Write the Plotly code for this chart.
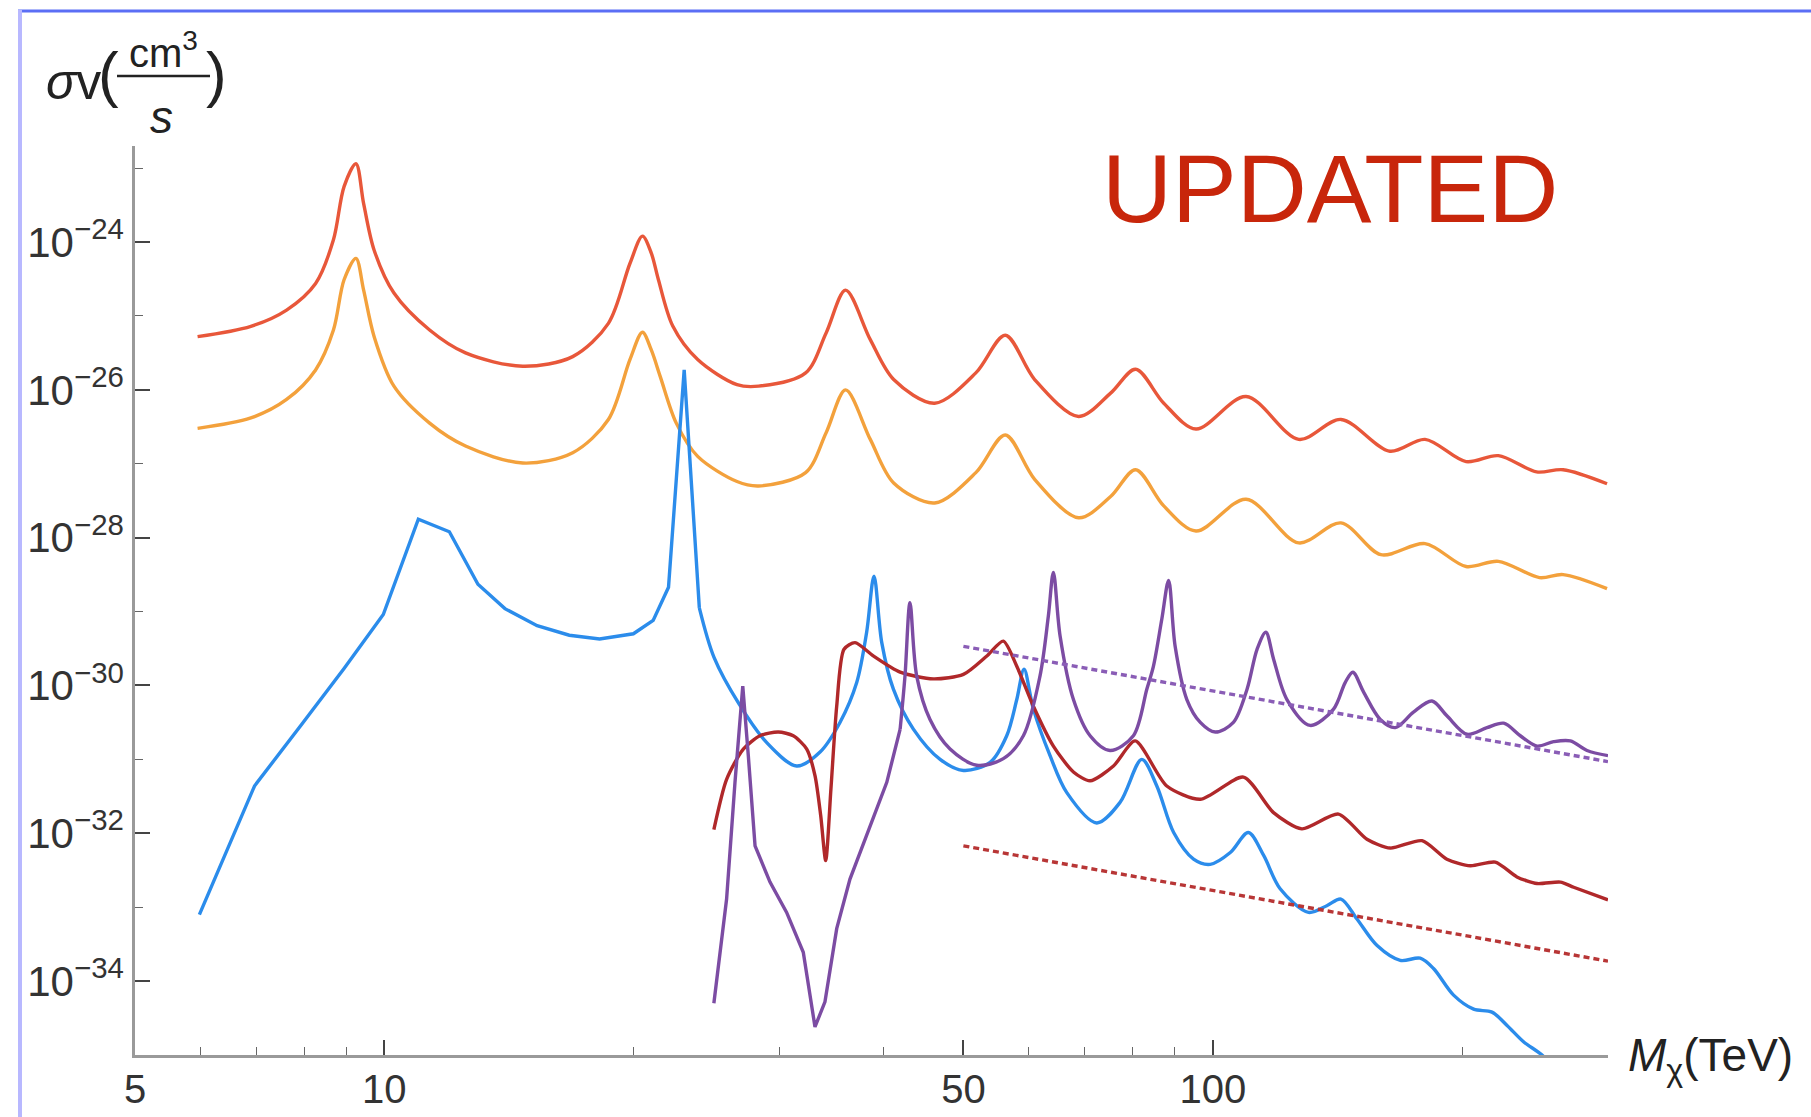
import math
import plotly.graph_objects as go

# ---------------- data: dark-matter mass M (TeV) and log10(sigma v / cm^3 s^-1) ----------------
mass_orange_red = [5.95, 6.90, 7.62, 8.26, 8.68, 8.94, 9.24, 9.44, 9.72, 10.27, 11.34, 12.53, 14.69,
                   16.88, 18.64, 19.79, 20.49, 21.0, 21.42, 22.30, 23.89, 26.65, 28.30, 32.25, 34.14,
                   36.04, 38.60, 41.19, 46.17, 51.76, 56.17, 60.95, 68.87, 75.34, 80.70, 87.27, 95.45,
                   109.7, 127.0, 142.8, 163.6, 180.4, 202.2, 221.2, 246.0, 264.8, 299.2]
logsv_orange_red = [-25.28, -25.14, -24.92, -24.56, -23.97, -23.25, -22.94, -23.48, -24.11, -24.69,
                    -25.19, -25.50, -25.68, -25.55, -25.10, -24.29, -23.92, -24.15, -24.51, -25.14,
                    -25.59, -25.93, -25.95, -25.77, -25.23, -24.65, -25.32, -25.86, -26.18, -25.77,
                    -25.26, -25.86, -26.36, -26.04, -25.72, -26.18, -26.53, -26.09, -26.67, -26.40,
                    -26.83, -26.67, -26.97, -26.89, -27.11, -27.08, -27.27]

mass_orange = [5.95, 6.90, 7.62, 8.26, 8.68, 8.94, 9.24, 9.44, 9.72, 10.27, 11.34, 12.53, 14.69,
               16.88, 18.64, 19.79, 20.49, 21.0, 21.53, 22.51, 23.89, 26.65, 28.30, 32.25, 34.14,
               36.04, 38.60, 41.19, 46.17, 51.76, 56.17, 60.95, 68.87, 75.34, 80.70, 87.27, 95.45,
               109.7, 127.0, 142.8, 159.6, 180.4, 202.2, 221.2, 248.0, 264.8, 299.2]
logsv_orange = [-26.52, -26.38, -26.13, -25.73, -25.19, -24.51, -24.22, -24.65, -25.28, -25.95,
                -26.45, -26.76, -26.99, -26.85, -26.40, -25.59, -25.22, -25.46, -25.82, -26.45,
                -26.90, -27.24, -27.30, -27.12, -26.58, -26.00, -26.67, -27.26, -27.53, -27.12,
                -26.61, -27.21, -27.73, -27.44, -27.08, -27.57, -27.91, -27.48, -28.07, -27.80,
                -28.23, -28.08, -28.39, -28.32, -28.54, -28.50, -28.69]

mass_blue = [5.98, 6.97, 7.94, 8.94, 9.97, 10.99, 11.98, 12.97, 13.98, 15.29, 16.72, 18.19, 19.98,
             21.11, 22.03, 23.01, 24.0, 25.0, 26.8, 28.93, 31.46, 33.57, 35.48, 37.17, 38.21, 39.0,
             39.85, 41.16, 43.51, 46.87, 50.0, 53.86, 56.40, 58.0, 59.18, 60.74, 63.62, 66.65,
             72.44, 77.3, 82.1, 85.6, 89.7, 94.8, 99.3, 105.0, 110.4, 115.2, 120.6, 130.5, 137.3,
             142.8, 149.3, 157.9, 168.4, 178.0, 184.7, 195.3, 206.5, 217.3, 226.6, 237.2, 250.8, 262.0]
logsv_blue = [-33.10, -31.36, -30.53, -29.77, -29.04, -27.75, -27.92, -28.63, -28.96, -29.19,
              -29.32, -29.37, -29.30, -29.12, -28.67, -25.73, -28.95, -29.62, -30.25, -30.77,
              -31.09, -30.90, -30.50, -29.96, -29.28, -28.52, -29.42, -30.05, -30.59, -31.00,
              -31.15, -31.04, -30.68, -30.19, -29.78, -30.32, -30.95, -31.45, -31.86, -31.58,
              -31.00, -31.36, -31.99, -32.35, -32.42, -32.26, -31.99, -32.30, -32.75, -33.07,
              -32.98, -32.89, -33.16, -33.52, -33.72, -33.69, -33.83, -34.19, -34.38, -34.42,
              -34.60, -34.82, -35.02, -35.30]

mass_darkred = [24.99, 25.89, 27.12, 28.41, 29.89, 31.16, 32.35, 33.10, 33.63, 34.10, 34.60, 35.16,
                35.88, 37.0, 38.92, 41.94, 46.0, 50.0, 53.37, 55.87, 58.0, 60.74, 64.21, 67.89,
                71.11, 75.88, 80.6, 88.0, 96.6, 108.9, 118.4, 128.1, 141.8, 153.5, 163.8, 178.9,
                191.7, 204.6, 219.3, 232.9, 246.3, 262.8, 272.7, 300.0]
logsv_darkred = [-31.95, -31.27, -30.86, -30.68, -30.63, -30.68, -30.86, -31.22, -31.76, -32.37,
                 -31.40, -30.28, -29.51, -29.42, -29.60, -29.82, -29.91, -29.85, -29.60, -29.40,
                 -29.74, -30.28, -30.82, -31.17, -31.29, -31.09, -30.75, -31.36, -31.54, -31.24,
                 -31.72, -31.94, -31.74, -32.08, -32.20, -32.10, -32.35, -32.44, -32.39, -32.59,
                 -32.68, -32.66, -32.73, -32.90]

mass_purple = [24.99, 25.89, 26.50, 27.08, 27.5, 28.02, 29.21, 30.59, 32.04, 33.10, 34.03, 35.16,
               36.48, 38.57, 40.41, 41.94, 42.51, 43.1, 43.91, 45.57, 48.18, 51.88, 55.87, 59.07,
               61.87, 63.32, 64.21, 65.42, 67.89, 71.11, 75.17, 80.2, 83.25, 84.79, 86.8, 88.45,
               90.07, 93.05, 96.6, 100.7, 105.9, 110.0, 113.1, 115.9, 118.4, 122.9, 131.1, 139.9,
               144.5, 147.6, 152.1, 159.3, 166.1, 174.7, 183.9, 191.7, 202.7, 214.3, 224.5, 235.1,
               246.3, 257.9, 270.2, 283.0, 300.0]
logsv_purple = [-34.30, -32.89, -31.31, -30.01, -30.95, -32.17, -32.66, -33.07, -33.61, -34.62,
                -34.28, -33.29, -32.62, -31.90, -31.31, -30.59, -29.87, -28.88, -29.87, -30.46,
                -30.86, -31.08, -30.99, -30.68, -29.87, -29.06, -28.47, -29.33, -30.19, -30.68,
                -30.88, -30.68, -30.05, -29.74, -29.10, -28.58, -29.47, -30.19, -30.50, -30.63,
                -30.50, -30.05, -29.51, -29.28, -29.64, -30.19, -30.54, -30.32, -29.96, -29.82,
                -30.09, -30.46, -30.57, -30.36, -30.21, -30.41, -30.66, -30.57, -30.51, -30.68,
                -30.82, -30.76, -30.75, -30.88, -30.95]

mass_bound = [50.0, 300.0]
logsv_bound_purple = [-29.47, -31.03]
logsv_bound_darkred = [-32.17, -33.73]

x_tick_vals = [5, 10, 50, 100]
x_tick_text = ["5", "10", "50", "100"]
x_minor_vals = [6, 7, 8, 9, 20, 30, 40, 60, 70, 80, 90, 200, 300]
y_tick_exps = [-24, -26, -28, -30, -32, -34]
y_minor_exps = [-23, -25, -27, -29, -31, -33]

# ---------------- layout geometry ----------------
W, H = 1811, 1117
ML, MR, MT, MB = 135, 203, 146, 62
PW, PH = W - ML - MR, H - MT - MB


def px_x(px):
    return (px - ML) / PW


def px_y(py):
    return (H - MB - py) / PH


FONT = "Liberation Sans, Arial, Helvetica, sans-serif"
LW = 3.4

fig = go.Figure()


def add_curve(mass, logsv, color, linear_until=None, width=LW, smoothing=0.9):
    sv = [10 ** v for v in logsv]
    if linear_until is not None:
        xa = [m for m in mass if m <= linear_until]
        ya = [s for m, s in zip(mass, sv) if m <= linear_until]
        fig.add_trace(go.Scatter(x=xa, y=ya, mode="lines",
                                 line=dict(color=color, width=width, shape="linear"),
                                 hoverinfo="skip"))
        xb = [m for m in mass if m >= linear_until]
        yb = [s for m, s in zip(mass, sv) if m >= linear_until]
    else:
        xb, yb = mass, sv
    fig.add_trace(go.Scatter(x=xb, y=yb, mode="lines",
                             line=dict(color=color, width=width, shape="spline", smoothing=smoothing),
                             hoverinfo="skip"))


add_curve(mass_orange_red, logsv_orange_red, "#E8573A")
add_curve(mass_orange, logsv_orange, "#F3A13C")
add_curve(mass_blue, logsv_blue, "#2B8CEB", linear_until=24.0)
add_curve(mass_darkred, logsv_darkred, "#B0282A", smoothing=0.7)
add_curve(mass_purple, logsv_purple, "#7C4CA3", linear_until=41.94)

fig.add_trace(go.Scatter(x=mass_bound, y=[10 ** v for v in logsv_bound_purple], mode="lines",
                         line=dict(color="#8A5DB6", width=3.4, dash="6px,4px"), hoverinfo="skip"))
fig.add_trace(go.Scatter(x=mass_bound, y=[10 ** v for v in logsv_bound_darkred], mode="lines",
                         line=dict(color="#B83636", width=3.4, dash="6px,4px"), hoverinfo="skip"))

fig.update_layout(
    width=W, height=H, autosize=False,
    margin=dict(l=ML, r=MR, t=MT, b=MB, pad=0, autoexpand=False),
    paper_bgcolor="white", plot_bgcolor="white",
    showlegend=False,
    font=dict(family=FONT, color="#333333"),
    xaxis=dict(
        type="log", range=[math.log10(5), math.log10(300)],
        automargin=False,
        tickmode="array", tickvals=x_tick_vals, ticktext=x_tick_text,
        ticks="inside", ticklen=15, tickwidth=1.6, tickcolor="#444444",
        tickfont=dict(size=40, color="#333333", family=FONT),
        ticklabelstandoff=-3,
        showline=True, linecolor="#9a9a9a", linewidth=2.5,
        showgrid=False, zeroline=False,
        minor=dict(tickmode="array", tickvals=x_minor_vals, ticks="inside",
                   ticklen=8, tickwidth=1.3, tickcolor="#666666", showgrid=False),
    ),
    yaxis=dict(
        type="log", range=[-35, -22.7],
        automargin=False,
        tickmode="array", tickvals=[10.0 ** e for e in y_tick_exps],
        ticktext=["10<sup>\u2212%d</sup>" % (-e) for e in y_tick_exps],
        ticks="inside", ticklen=15, tickwidth=1.6, tickcolor="#444444",
        tickfont=dict(size=42, color="#333333", family=FONT),
        showline=True, linecolor="#9a9a9a", linewidth=2.5,
        showgrid=False, zeroline=False,
        minor=dict(tickmode="array", tickvals=[10.0 ** e for e in y_minor_exps], ticks="inside",
                   ticklen=8, tickwidth=1.3, tickcolor="#666666", showgrid=False),
    ),
)

annotations = [
    # y-axis label  sigma v ( cm^3 / s )
    dict(text="<i>\u03c3</i>v", x=px_x(73), y=px_y(82), font=dict(size=50)),
    dict(text="(", x=px_x(108), y=px_y(74), font=dict(size=62)),
    dict(text="cm<sup>3</sup>", x=px_x(163), y=px_y(50), font=dict(size=40)),
    dict(text="<i>s</i>", x=px_x(161), y=px_y(117), font=dict(size=46)),
    dict(text=")", x=px_x(216), y=px_y(74), font=dict(size=62)),
    # x-axis label
    dict(text="<i>M</i><sub>\u03c7</sub>(TeV)", x=px_x(1626), y=px_y(1058), xanchor="left",
         font=dict(size=46)),
    # stamp
    dict(text="UPDATED", x=px_x(1330), y=px_y(189), font=dict(size=97, color="#C8260B")),
]
for a in annotations:
    a.setdefault("xanchor", "center")
    a.setdefault("yanchor", "middle")
    a["xref"] = "paper"
    a["yref"] = "paper"
    a["showarrow"] = False
    a["font"].setdefault("color", "#222222")
    a["font"].setdefault("family", FONT)
    fig.add_annotation(**a)

shapes = [
    # fraction bar of the y label
    dict(type="line", x0=px_x(117), x1=px_x(210), y0=px_y(76), y1=px_y(76),
         line=dict(color="#222222", width=2.5)),
    # screenshot frame lines
    dict(type="line", x0=px_x(18), x1=px_x(1811), y0=px_y(11), y1=px_y(11),
         line=dict(color="#5B6EF5", width=3)),
    dict(type="line", x0=px_x(20), x1=px_x(20), y0=px_y(10), y1=px_y(1117),
         line=dict(color="#B8B8FF", width=4)),
]
for s in shapes:
    s["xref"] = "paper"
    s["yref"] = "paper"
    fig.add_shape(**s)

fig.write_html("out.html")
